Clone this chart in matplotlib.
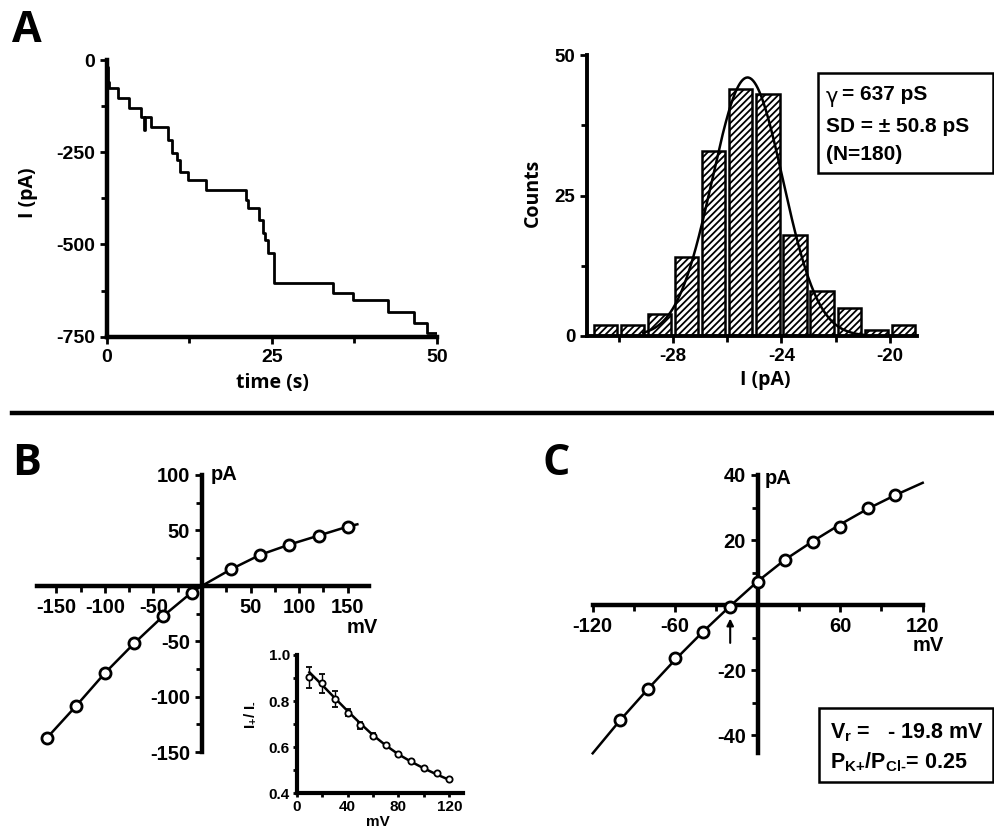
import numpy as np
import matplotlib
matplotlib.use("Agg")
import matplotlib.pyplot as plt
from matplotlib.patches import Rectangle
from matplotlib.lines import Line2D

# ---------------- data ----------------
# Panel A (left): current trace, step levels (time in s, current in pA)
trace_t = [0, 0.15, 0.35, 1.6, 3.3, 5.2, 5.6, 5.75, 6.7, 9.3, 9.8, 10.6, 11.1, 12.3,
           15.0, 21.1, 21.4, 23.1, 23.7, 24.0, 24.4, 25.3, 34.3, 37.3, 42.6, 46.5, 48.5, 50.0]
trace_i = [-20, -60, -77, -104, -129, -154, -190, -154, -181, -217, -253, -271, -303, -325,
           -352, -380, -402, -434, -470, -488, -524, -604, -631, -651, -682, -714, -739, -739]

# Panel A (right): amplitude histogram
hist_centers = [-30.5, -29.5, -28.5, -27.5, -26.5, -25.5, -24.5, -23.5, -22.5, -21.5, -20.5, -19.5]
hist_counts = [2, 2, 4, 14, 33, 44, 43, 18, 8, 5, 1, 2]
gauss_amp, gauss_mu, gauss_sd = 46.0, -25.25, 1.3
gauss_range = (-29.1, -20.9)

# Panel B: I-V relation
b_v = [-160, -130, -100, -70, -40, -10, 30, 60, 90, 120, 150]
b_i = [-137.5, -108.7, -78.7, -52.0, -27.3, -6.6, 15.0, 28.0, 37.2, 45.3, 53.4]
b_fit_v = [-160, -130, -100, -70, -40, -10, 0, 30, 60, 90, 120, 150, 160]
b_fit_i = [-137.5, -108.7, -78.7, -52.0, -27.3, -5.5, 0.0, 15.0, 28.0, 37.2, 45.3, 53.4, 55.5]

# Panel B inset: rectification ratio
in_v = [10, 20, 30, 40, 50, 60, 70, 80, 90, 100, 110, 120]
in_r = [0.903, 0.877, 0.808, 0.750, 0.696, 0.650, 0.610, 0.569, 0.540, 0.508, 0.487, 0.461]
in_err = [0.045, 0.042, 0.035, 0.015, 0.015, 0.010, 0.0, 0.0, 0.0, 0.0, 0.0, 0.0]
in_fit = [0.925, 0.870, 0.813, 0.757, 0.703, 0.652, 0.608, 0.569, 0.537, 0.508, 0.482, 0.458]

# Panel C: I-V relation (reversal potential)
c_v = [-100, -80, -60, -40, -20, 0, 20, 40, 60, 80, 100]
c_i = [-35.4, -25.7, -16.4, -8.2, -0.5, 7.1, 13.8, 19.3, 23.9, 29.7, 34.0]
c_fit_v = [-120, -100, -80, -60, -40, -20, 0, 20, 40, 60, 80, 100, 120]
c_fit_i = [-45.6, -35.4, -25.9, -16.8, -8.3, -0.3, 7.3, 14.0, 19.6, 24.8, 29.6, 33.8, 37.6]

# ---------------- style ----------------
plt.rcParams['font.family'] = ['Liberation Sans', 'DejaVu Sans']
plt.rcParams['font.weight'] = 'bold'
plt.rcParams['axes.unicode_minus'] = False
plt.rcParams['mathtext.fontset'] = 'custom'
plt.rcParams['mathtext.rm'] = 'Liberation Sans:bold'
plt.rcParams['mathtext.bf'] = 'Liberation Sans:bold'
plt.rcParams['mathtext.it'] = 'Liberation Sans:bold'
plt.rcParams['mathtext.sf'] = 'Liberation Sans:bold'
plt.rcParams['hatch.linewidth'] = 1.3

W, H = 995, 833
fig = plt.figure(figsize=(W / 100, H / 100), dpi=100)

LAB = ['Open Sans', 'DejaVu Sans']


def add_ax(l, t, r, b):
    return fig.add_axes([l / W, 1 - b / H, (r - l) / W, (b - t) / H])


def ftext(px, py, s, **kw):
    return fig.text(px / W, 1 - py / H, s, **kw)


def style_ax(ax, lw=3.0, fs=14):
    for s in ['top', 'right']:
        ax.spines[s].set_visible(False)
    for s in ['left', 'bottom']:
        ax.spines[s].set_linewidth(lw)
    ax.tick_params(which='both', direction='out', width=2, labelsize=fs)
    ax.tick_params(which='major', length=5)
    ax.tick_params(which='minor', length=4)
    for lab in ax.get_xticklabels() + ax.get_yticklabels():
        lab.set_fontweight('bold')


# ---------------- Panel A: trace ----------------
axA = add_ax(107, 60, 437, 336.7)
axA.step(trace_t, trace_i, where='post', color='black', lw=2.0)
axA.set_xlim(0, 50)
axA.set_ylim(-750, 0)
axA.set_xticks([0, 25, 50])
axA.set_xticks([12.5, 37.5], minor=True)
axA.set_yticks([0, -250, -500, -750])
axA.set_yticks([-125, -375, -625], minor=True)
style_ax(axA, lw=3.2, fs=14)
axA.tick_params(axis='x', pad=4)
ftext(272, 383, 'time (s)', ha='center', va='center', fontsize=14, family=LAB, weight='bold')
ftext(28, 193, 'I (pA)', ha='center', va='center', rotation=90, fontsize=14, family=LAB, weight='bold')

# ---------------- Panel A: histogram ----------------
axH = add_ax(587, 55, 917, 336)
axH.bar(hist_centers, hist_counts, width=0.86, color='white', edgecolor='black',
        hatch='/////', linewidth=1.8, zorder=2)
gx = np.linspace(gauss_range[0], gauss_range[1], 300)
gy = gauss_amp * np.exp(-(gx - gauss_mu) ** 2 / (2 * gauss_sd ** 2))
axH.plot(gx, gy, color='black', lw=1.8, zorder=3)
axH.set_xlim(-31.17, -19.0)
axH.set_ylim(0, 50)
axH.set_xticks([-28, -24, -20])
axH.set_xticks([-30, -26, -22], minor=True)
axH.set_yticks([0, 25, 50])
axH.set_yticks([12.5, 37.5], minor=True)
style_ax(axH, lw=2.8, fs=13.5)
ftext(765, 380, 'I (pA)', ha='center', va='center', fontsize=14, family=LAB, weight='bold')
ftext(533, 193, 'Counts', ha='center', va='center', rotation=90, fontsize=14, family=LAB, weight='bold')

fig.add_artist(Rectangle((818 / W, 1 - 173 / H), (993 - 818) / W, 100 / H,
                         transform=fig.transFigure, fill=False, lw=1.8, edgecolor='black'))
ftext(826, 97, '\u03b3', ha='left', va='center', fontsize=15, weight='normal',
      family=['DejaVu Sans'])
ftext(842, 95, '= 637 pS', ha='left', va='center', fontsize=15, weight='bold')
ftext(826, 126, 'SD = \u00b1 50.8 pS', ha='left', va='center', fontsize=15, weight='bold')
ftext(826, 155, '(N=180)', ha='left', va='center', fontsize=15, weight='bold')

# panel letters and separator
ftext(12, 30, 'A', ha='left', va='center', fontsize=31, family=LAB, weight='bold')
ftext(12, 463, 'B', ha='left', va='center', fontsize=31, family=LAB, weight='bold')
ftext(543, 463, 'C', ha='left', va='center', fontsize=31, family=LAB, weight='bold')
fig.add_artist(Line2D([12 / W, 1.0], [1 - 413 / H, 1 - 413 / H], transform=fig.transFigure,
                      color='black', lw=3.2))

# ---------------- Panel B ----------------
axB = add_ax(37, 475, 369, 752)
axB.plot(b_fit_v, b_fit_i, color='black', lw=1.8, zorder=2)
axB.plot(b_v, b_i, 'o', ms=8, mfc='white', mec='black', mew=2.0, zorder=3)
axB.set_xlim(-170, 172)
axB.set_ylim(-150, 100)
axB.spines['left'].set_position(('data', 0))
axB.spines['bottom'].set_position(('data', 0))
axB.set_xticks([-150, -100, -50, 50, 100, 150])
axB.set_xticks([-125, -75, -25, 25, 75, 125], minor=True)
axB.set_yticks([100, 50, -50, -100, -150])
axB.set_yticks([75, 25, -25, -75, -125], minor=True)
style_ax(axB, lw=3.2, fs=14.5)
axB.text(9, 100, 'pA', ha='left', va='center', fontsize=14.5, weight='bold')
axB.text(165, -38, 'mV', ha='center', va='center', fontsize=14.5, weight='bold')

# inset
axI = add_ax(296.7, 655, 463, 793.3)
axI.plot(in_v, in_fit, color='black', lw=1.8, zorder=2)
axI.errorbar(in_v, in_r, yerr=in_err, fmt='o', ms=4.5, mfc='white', mec='black', mew=1.3,
             ecolor='black', elinewidth=1.0, capsize=2, zorder=3)
axI.set_xlim(0, 130.7)
axI.set_ylim(0.4, 1.0)
axI.set_xticks([0, 40, 80, 120])
axI.set_xticks([20, 60, 100], minor=True)
axI.set_yticks([0.4, 0.6, 0.8, 1.0])
axI.set_yticklabels(['0.4', '0.6', '0.8', '1.0'])
axI.set_yticks([0.5, 0.7, 0.9], minor=True)
style_ax(axI, lw=3.0, fs=11)
axI.tick_params(which='both', length=3, pad=2)
ftext(378, 822, 'mV', ha='center', va='center', fontsize=11, weight='bold')
ftext(250, 715, 'I$_{+}$/ I$_{\\text{-}}$', ha='center', va='center', rotation=90, fontsize=11, weight='bold')

# ---------------- Panel C ----------------
axC = add_ax(592.7, 475, 922.7, 753.3)
axC.plot(c_fit_v, c_fit_i, color='black', lw=1.8, zorder=2, clip_on=False)
axC.plot(c_v, c_i, 'o', ms=8, mfc='white', mec='black', mew=2.0, zorder=3)
axC.set_xlim(-120, 120)
axC.set_ylim(-45.6, 40)
axC.spines['left'].set_position(('data', 0))
axC.spines['bottom'].set_position(('data', 0))
axC.set_xticks([-120, -60, 60, 120])
axC.set_xticks([-90, -30, 30, 90], minor=True)
axC.set_yticks([40, 20, -20, -40])
axC.set_yticks([30, 10, -10, -30], minor=True)
style_ax(axC, lw=3.2, fs=14.5)
axC.text(5, 39, 'pA', ha='left', va='center', fontsize=14.5, weight='bold')
axC.text(124, -12.3, 'mV', ha='center', va='center', fontsize=14.5, weight='bold')
axC.annotate('', xy=(-20, -3.3), xytext=(-20, -12.5),
             arrowprops=dict(arrowstyle='-|>', color='black', lw=1.5, mutation_scale=10))

fig.add_artist(Rectangle((819 / W, 1 - 782 / H), (993 - 819) / W, 74 / H,
                         transform=fig.transFigure, fill=False, lw=1.8, edgecolor='black'))
ftext(830, 733, 'V$_\\text{r}$ =   - 19.8 mV', ha='left', va='center', fontsize=15.5, weight='bold')
ftext(830, 762, 'P$_\\text{K+}$/P$_\\text{Cl-}$= 0.25', ha='left', va='center', fontsize=15.5, weight='bold')

fig.savefig('out.png', dpi=100)
